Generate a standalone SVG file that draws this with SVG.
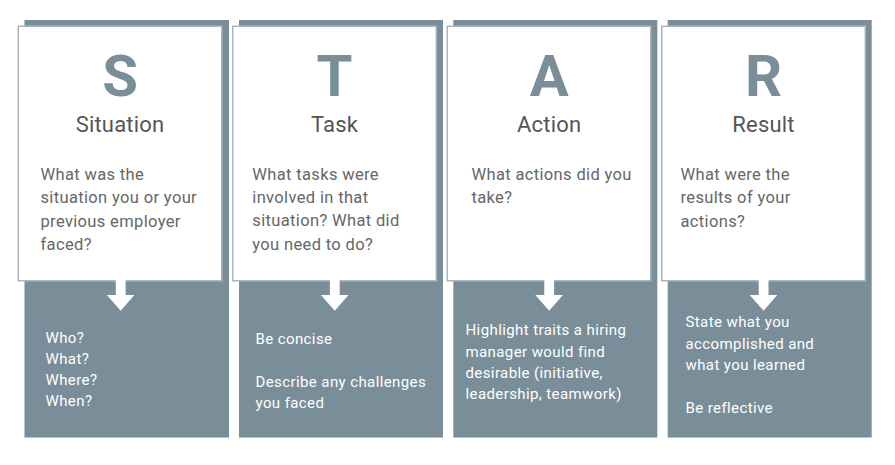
<svg xmlns="http://www.w3.org/2000/svg" width="895" height="465" viewBox="0 0 895 465">
<style>
.bg{fill:#798e99}
.card{fill:#ffffff;stroke:#a9b8c0;stroke-width:1.5}
.big{font-family:Roboto,"Liberation Sans",sans-serif;font-weight:700;font-size:58px;fill:#798e99;text-anchor:middle}
.head{font-family:Roboto,"Liberation Sans",sans-serif;font-size:22px;fill:#555555;text-anchor:middle;letter-spacing:0.2px}
.body{font-family:Roboto,"Liberation Sans",sans-serif;font-size:16.5px;fill:#666666;letter-spacing:0.35px}
.low{font-family:Roboto,"Liberation Sans",sans-serif;font-size:15px;fill:#ffffff;letter-spacing:0.4px}
.arr{fill:#ffffff}
</style>
<rect width="895" height="465" fill="#ffffff"/>
<g id="situation">
<rect class="bg" x="24.5" y="20" width="204.5" height="417.5"/>
<rect class="card" x="18.25" y="26.25" width="203.5" height="254.5"/>
<text class="big" x="120" y="96">S</text>
<text class="head" x="120" y="132">Situation</text>
<text class="body"><tspan x="40.5" y="180">What was the</tspan><tspan x="40.5" y="203.4">situation you or your</tspan><tspan x="40.5" y="226.8">previous employer</tspan><tspan x="40.5" y="250.2">faced?</tspan></text>
<text class="low"><tspan x="45.5" y="342.7">Who?</tspan><tspan x="45.5" y="363.9">What?</tspan><tspan x="45.5" y="385.1">Where?</tspan><tspan x="45.5" y="406.3">When?</tspan></text>
</g>
<g id="task">
<rect class="bg" x="239" y="20" width="204" height="417.5"/>
<rect class="card" x="232.75" y="26.25" width="203.5" height="254.5"/>
<text class="big" x="334.5" y="96">T</text>
<text class="head" x="334.5" y="132">Task</text>
<text class="body"><tspan x="252.3" y="179.5">What tasks were</tspan><tspan x="252.3" y="202.9">involved in that</tspan><tspan x="252.3" y="226.3">situation? What did</tspan><tspan x="252.3" y="249.7">you need to do?</tspan></text>
<text class="low"><tspan x="255.5" y="344">Be concise</tspan><tspan x="255.5" y="386.6">Describe any challenges</tspan><tspan x="255.5" y="407.9">you faced</tspan></text>
</g>
<g id="action">
<rect class="bg" x="453.3" y="20" width="204" height="417.5"/>
<rect class="card" x="447.25" y="26.25" width="203.5" height="254.5"/>
<text class="big" x="549.2" y="96">A</text>
<text class="head" x="549.2" y="132">Action</text>
<text class="body"><tspan x="471.5" y="180">What actions did you</tspan><tspan x="471.5" y="203.4">take?</tspan></text>
<text class="low"><tspan x="465.5" y="335.3">Highlight traits a hiring</tspan><tspan x="465.5" y="356.6">manager would find</tspan><tspan x="465.5" y="377.9">desirable (initiative,</tspan><tspan x="465.5" y="399.2">leadership, teamwork)</tspan></text>
</g>
<g id="result">
<rect class="bg" x="667.7" y="20" width="204" height="417.5"/>
<rect class="card" x="661.75" y="26.25" width="203.5" height="254.5"/>
<text class="big" x="763.5" y="96">R</text>
<text class="head" x="763.5" y="132">Result</text>
<text class="body"><tspan x="680.5" y="180">What were the</tspan><tspan x="680.5" y="203.4">results of your</tspan><tspan x="680.5" y="226.8">actions?</tspan></text>
<text class="low"><tspan x="685.5" y="327.3">State what you</tspan><tspan x="685.5" y="348.6">accomplished and</tspan><tspan x="685.5" y="369.9">what you learned</tspan><tspan x="685.5" y="412.5">Be reflective</tspan></text>
</g>
<g id="connectors">
<path class="arr" d="M115.8 280 H125.6 V295 H134.4 L120.7 310.7 L106.8 295 H115.8 Z"/>
<path class="arr" d="M329.9 280 H339.7 V295 H348.5 L334.8 310.7 L320.9 295 H329.9 Z"/>
<path class="arr" d="M544.3 280 H554.1 V295 H562.9 L549.2 310.7 L535.3 295 H544.3 Z"/>
<path class="arr" d="M758.7 280 H768.5 V295 H777.3 L763.6 310.7 L749.7 295 H758.7 Z"/>
</g>
</svg>
